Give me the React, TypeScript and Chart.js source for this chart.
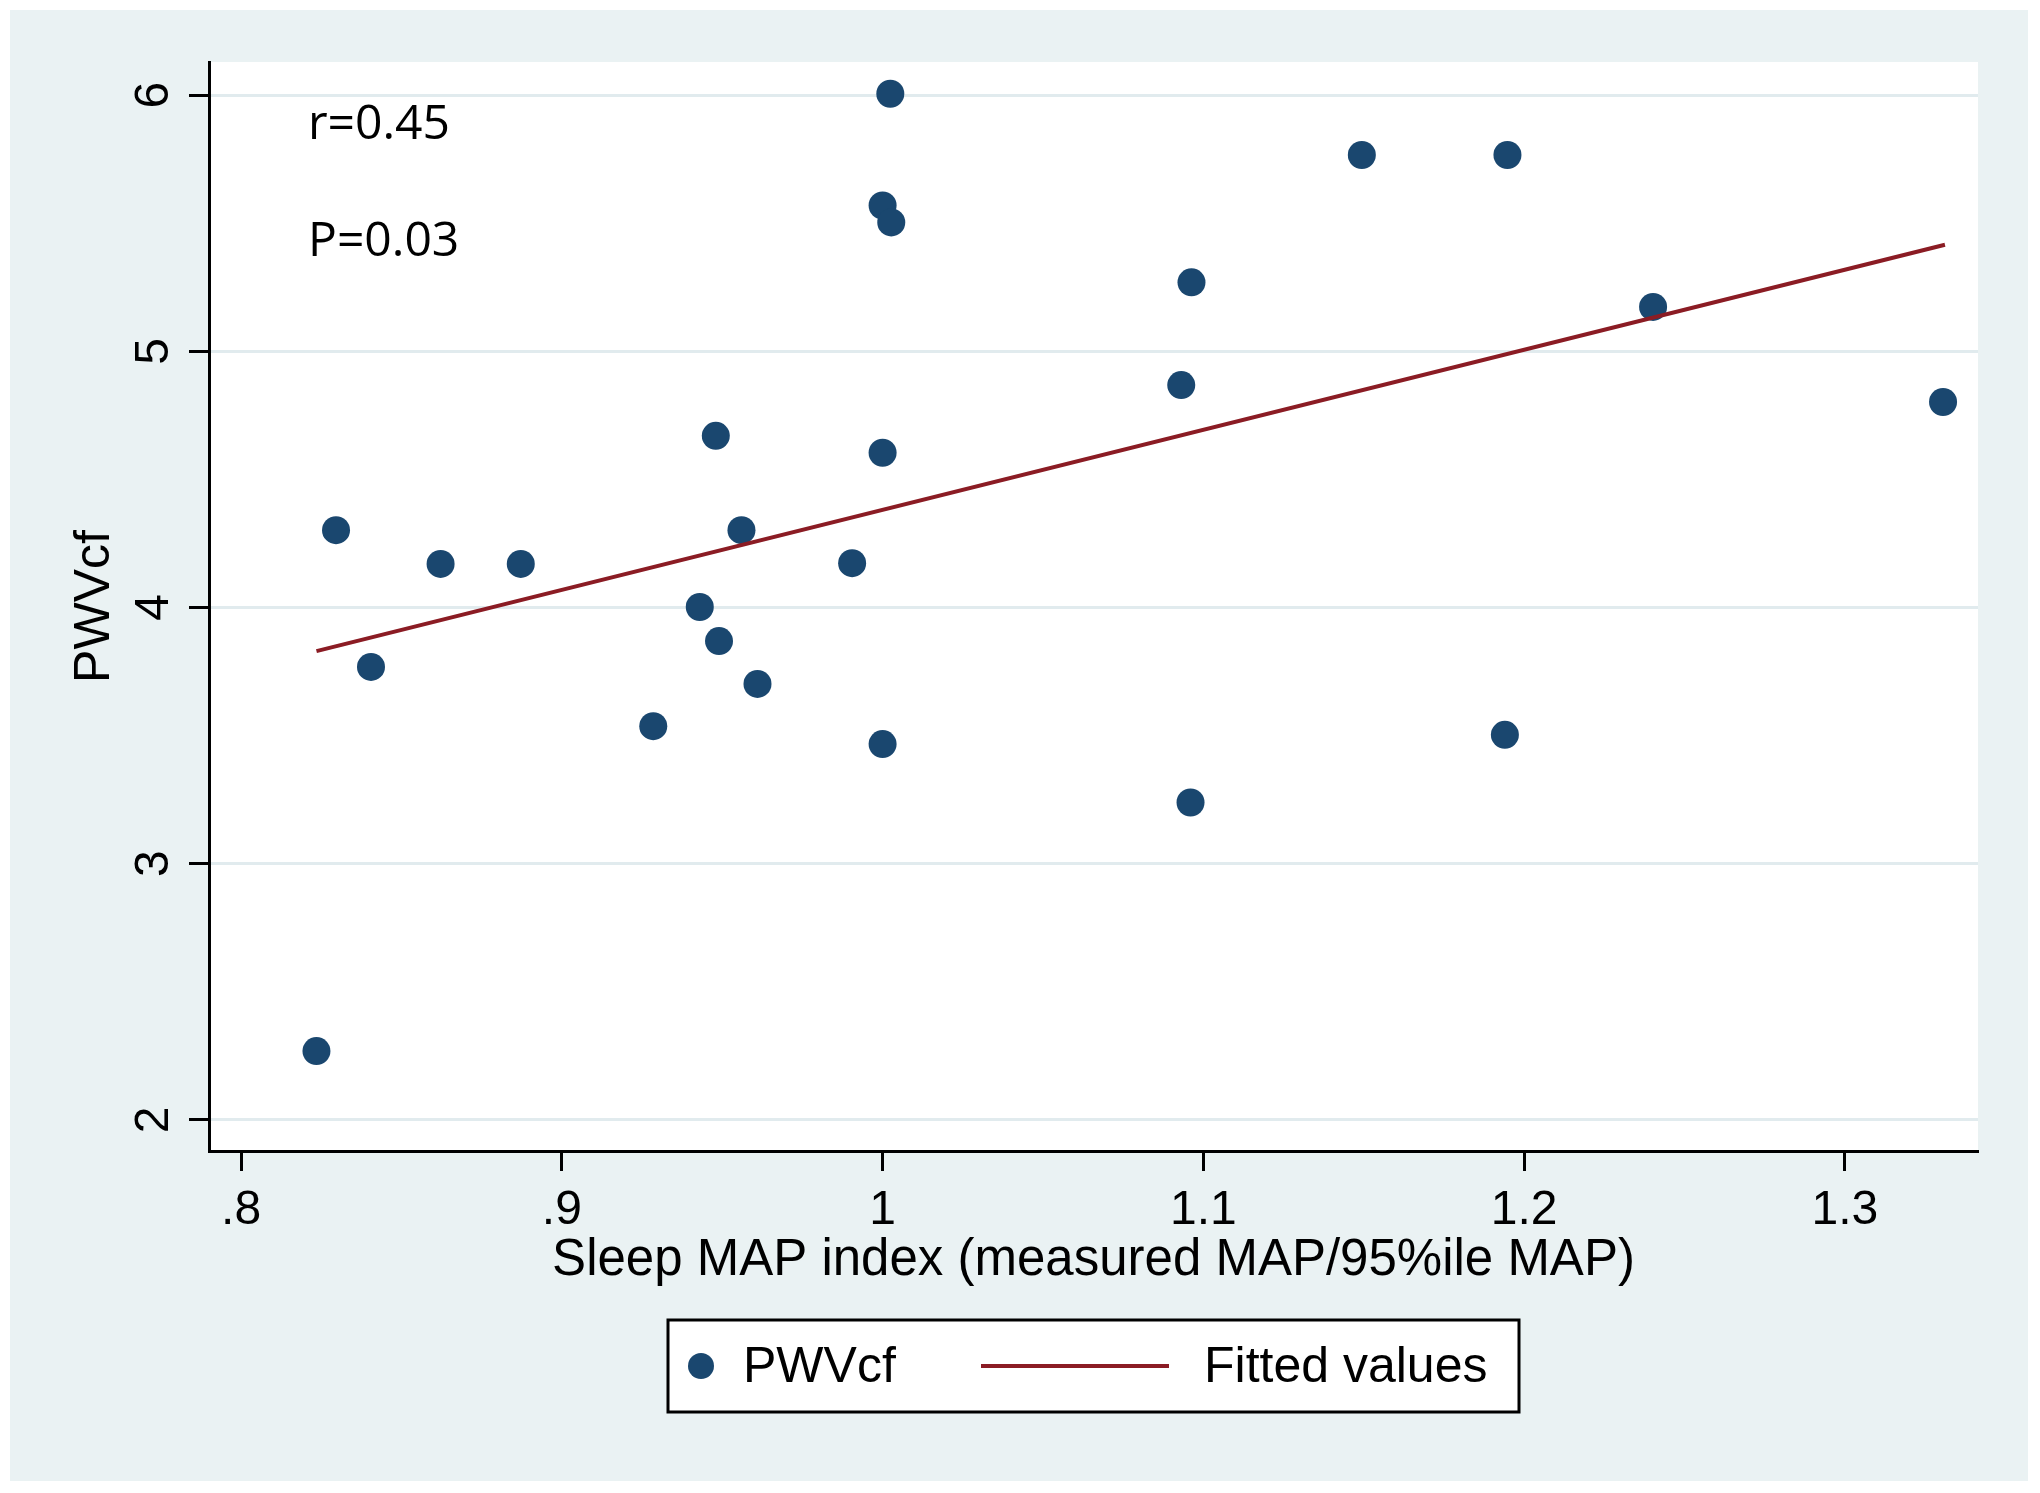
import React, { useEffect, useRef } from "react";
import { Chart, registerables } from "chart.js";

Chart.register(...registerables);

// ---------- data ----------
const sleepMapIndex = [
  0.8235, 0.8296, 0.8405, 0.8622, 0.8872, 0.9285, 0.943, 0.948, 0.949, 0.956,
  0.961, 0.9905, 1.0, 1.0, 1.0, 1.0024, 1.0027, 1.0931, 1.096, 1.0963,
  1.1494, 1.194, 1.1948, 1.2402, 1.3306,
];
const pwvcfValues = [
  2.269, 4.302, 3.768, 4.17, 4.17, 3.537, 4.002, 4.67, 3.869, 4.302,
  3.702, 4.173, 3.467, 4.604, 5.569, 6.005, 5.503, 4.868, 3.239, 5.269,
  5.766, 3.503, 5.766, 5.173, 4.802,
];
const fittedX = [0.8235, 1.3312];
const fittedY = [3.83, 5.416];

const xTickValues = [0.8, 0.9, 1.0, 1.1, 1.2, 1.3];
const xTickLabels = [".8", ".9", "1", "1.1", "1.2", "1.3"];
const yTickValues = [2, 3, 4, 5, 6];
const yTickLabels = ["2", "3", "4", "5", "6"];

const seriesLabels = ["PWVcf", "Fitted values"];
const annotationTexts = ["r=0.45", "P=0.03"];
const xAxisTitle = "Sleep MAP index (measured MAP/95%ile MAP)";
const yAxisTitle = "PWVcf";

// ---------- styles ----------
const SANS = '"Liberation Sans", Arial, sans-serif';
const ANNOT_FONT = '"Open Sans", sans-serif';
const NAVY = "#1a476f";
const MAROON = "#8b1c24";
const BG = "#eaf2f3";
const GRID = "#e1ebee";

const W = 2040;
const H = 1493;

const decorPlugin = {
  id: "decor",
  beforeDraw(chart: any) {
    const { ctx, chartArea: a, width, height } = chart;
    ctx.save();
    ctx.fillStyle = "#ffffff";
    ctx.fillRect(0, 0, width, height);
    ctx.fillStyle = BG;
    ctx.fillRect(10, 10, width - 22, height - 22);
    ctx.fillStyle = "#ffffff";
    ctx.fillRect(a.left, a.top, a.right - a.left, a.bottom - a.top);
    ctx.restore();
  },
  afterDraw(chart: any) {
    const { ctx, chartArea: a } = chart;
    const ys = chart.scales.y;
    ctx.save();
    // rotated y tick labels
    ctx.fillStyle = "#000";
    ctx.font = `48px ${SANS}`;
    yTickValues.forEach((v, i) => {
      const py = ys.getPixelForValue(v);
      ctx.save();
      ctx.translate(ys.right - 41, py);
      ctx.rotate(-Math.PI / 2);
      ctx.textAlign = "center";
      ctx.textBaseline = "alphabetic";
      ctx.fillText(yTickLabels[i], 0, 0);
      ctx.restore();
    });

    // annotations
    ctx.font = `48px ${ANNOT_FONT}`;
    ctx.textAlign = "left";
    ctx.textBaseline = "alphabetic";
    ctx.fillText(annotationTexts[0], a.left + 99, a.top + 77);
    ctx.fillText(annotationTexts[1], a.left + 99, a.top + 194);

    // legend box
    const ds = chart.data.datasets;
    const cx = (a.left + a.right) / 2;
    const boxW = 851;
    const boxH = 92;
    const left = cx - boxW / 2;
    const top = a.bottom + 169;
    const cy = top + boxH / 2;
    ctx.fillStyle = "#ffffff";
    ctx.fillRect(left, top, boxW, boxH);
    ctx.strokeStyle = "#000";
    ctx.lineWidth = 3;
    ctx.strokeRect(left, top, boxW, boxH);

    ctx.fillStyle = ds[0].backgroundColor;
    ctx.beginPath();
    ctx.arc(left + 33, cy, 13, 0, Math.PI * 2);
    ctx.fill();

    ctx.strokeStyle = ds[1].borderColor;
    ctx.lineWidth = 4;
    ctx.beginPath();
    ctx.moveTo(left + 313, cy);
    ctx.lineTo(left + 501, cy);
    ctx.stroke();

    ctx.fillStyle = "#000";
    ctx.font = `50px ${SANS}`;
    ctx.textBaseline = "middle";
    ctx.textAlign = "left";
    ctx.fillText(ds[0].label, left + 75, cy + 2);
    ctx.fillText(ds[1].label, left + 536, cy + 2);
    ctx.restore();
  },
};

export default function App() {
  const canvasRef = useRef<HTMLCanvasElement | null>(null);

  useEffect(() => {
    const canvas = canvasRef.current;
    if (!canvas) return;
    const points = sleepMapIndex.map((x, i) => ({ x, y: pwvcfValues[i] }));
    const fitted = fittedX.map((x, i) => ({ x, y: fittedY[i] }));

    const chart = new Chart(canvas, {
      type: "scatter",
      data: {
        datasets: [
          {
            type: "scatter",
            label: seriesLabels[0],
            data: points,
            backgroundColor: NAVY,
            borderColor: NAVY,
            borderWidth: 0,
            pointRadius: 14,
            pointHoverRadius: 14,
            order: 2,
          } as any,
          {
            type: "line",
            label: seriesLabels[1],
            data: fitted,
            borderColor: MAROON,
            backgroundColor: MAROON,
            borderWidth: 4,
            pointRadius: 0,
            showLine: true,
            fill: false,
            tension: 0,
            order: 1,
          } as any,
        ],
      },
      options: {
        animation: false,
        responsive: false,
        devicePixelRatio: 1,
        layout: { padding: { left: 10, top: 62, right: 62, bottom: 182 } },
        plugins: {
          legend: { display: false },
          tooltip: { enabled: false },
        },
        scales: {
          x: {
            type: "linear",
            position: "bottom",
            min: 0.79,
            max: 1.3415,
            afterBuildTicks: (s: any) => {
              s.ticks = xTickValues.map((v) => ({ value: v }));
            },
            afterFit: (s: any) => {
              s.height = 160;
            },
            ticks: {
              callback: (_v: any, i: number) => xTickLabels[i] ?? "",
              font: { family: SANS, size: 48 },
              color: "#000",
              padding: 11,
              maxRotation: 0,
              minRotation: 0,
              autoSkip: false,
            },
            grid: {
              drawOnChartArea: false,
              drawTicks: true,
              tickLength: 20,
              tickWidth: 3,
              tickColor: "#000",
            },
            border: { display: true, color: "#000", width: 3 },
            title: {
              display: true,
              text: xAxisTitle,
              font: { family: SANS, size: 51 },
              color: "#000",
              padding: { top: 0, bottom: 19 },
            },
          },
          y: {
            type: "linear",
            position: "left",
            min: 1.879,
            max: 6.129,
            afterBuildTicks: (s: any) => {
              s.ticks = yTickValues.map((v) => ({ value: v }));
            },
            afterFit: (s: any) => {
              s.width = 199;
            },
            ticks: { display: false },
            grid: {
              color: GRID,
              lineWidth: 3,
              drawTicks: true,
              tickLength: 20,
              tickWidth: 3,
              tickColor: "#000",
            },
            border: { display: true, color: "#000", width: 3 },
            title: {
              display: true,
              text: yAxisTitle,
              font: { family: SANS, size: 50 },
              color: "#000",
              padding: { top: 55, bottom: 0 },
            },
          },
        },
      } as any,
      plugins: [decorPlugin as any],
    });

    return () => {
      chart.destroy();
    };
  }, []);

  return (
    <div style={{ position: "absolute", left: 0, top: 0, width: W, height: H }}>
      <canvas
        ref={canvasRef}
        width={W}
        height={H}
        style={{ display: "block", width: W, height: H }}
      />
    </div>
  );
}
